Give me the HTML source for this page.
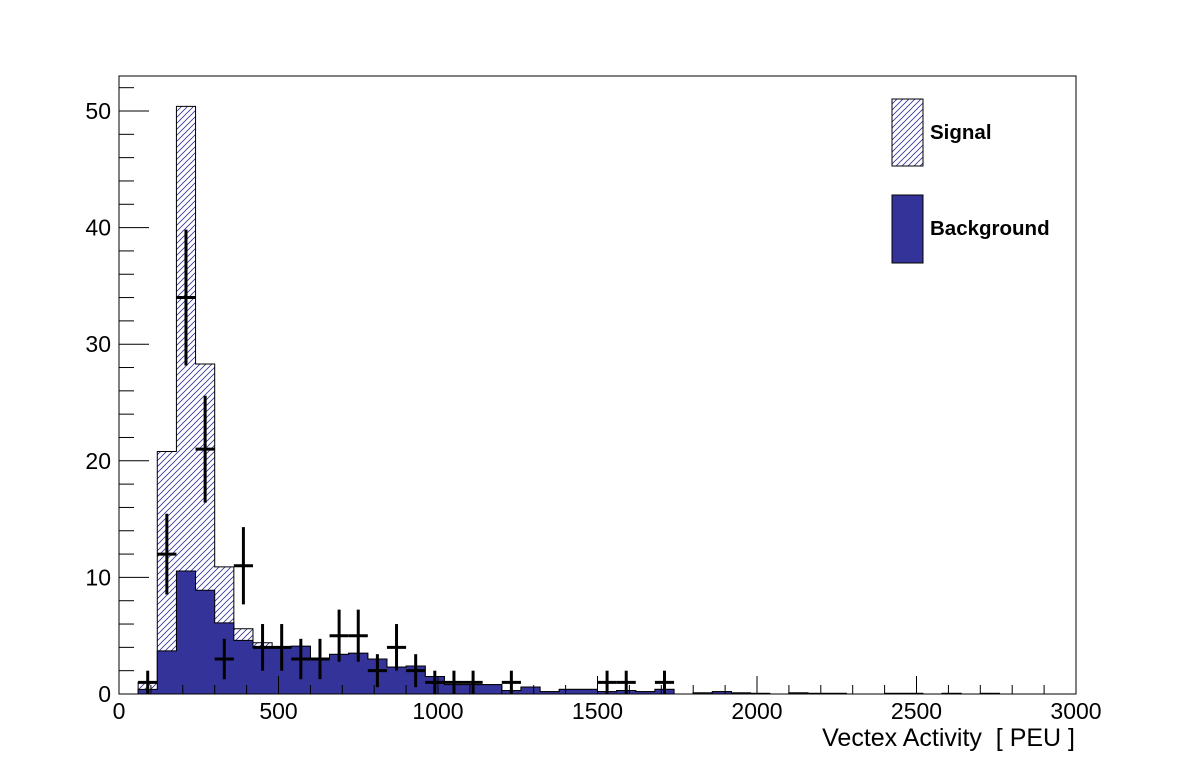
<!DOCTYPE html>
<html><head><meta charset="utf-8"><style>
html,body{margin:0;padding:0;background:#fff;}
svg{display:block;font-family:"Liberation Sans",Arial,sans-serif;}
</style></head><body>
<svg id="s" width="1196" height="772" xmlns="http://www.w3.org/2000/svg">
<defs>
<pattern id="h" patternUnits="userSpaceOnUse" width="6" height="6">
<rect width="6" height="6" fill="#fff"/>
<path d="M-1,7 L7,-1 M-1,1 L1,-1 M5,7 L7,5" stroke="#333399" stroke-width="0.8"/>
</pattern>
</defs>
<g id="g"></g>
</svg>
<script>
var X0=119,X1=1076,Y0=694,ppu=11.66;
function px(v){return X0+v*(X1-X0)/3000;}
function py(v){return Y0-v*ppu;}
var bg=[0.4,3.7,10.55,8.9,6.1,4.6,4.0,4.0,4.1,3.0,3.4,3.5,3.0,2.3,2.4,1.5,0.8,0.8,0.8,0.3,0.6,0.2,0.4,0.4,0.2,0.3,0.2,0.4,0,0.1,0.2,0.1,0.05,0,0.1,0.05,0.05,0,0,0.05,0.05,0,0.05,0,0.05,0];
var tot=bg.slice();tot[0]=1.0;tot[1]=20.8;tot[2]=50.4;tot[3]=28.3;tot[4]=10.9;tot[5]=5.6;tot[6]=4.4;
function stepPath(arr){var d="M"+px(60)+","+Y0;for(var i=0;i<arr.length;i++){var a=60+i*60;d+=" L"+px(a)+","+py(arr[i])+" L"+px(a+60)+","+py(arr[i]);}d+=" L"+px(60+arr.length*60)+","+Y0+" Z";return d;}
var s="";
s+='<path d="'+stepPath(tot)+'" fill="url(#h)" stroke="#000" stroke-width="1"/>';
s+='<path d="'+stepPath(bg)+'" fill="#333399" stroke="#000" stroke-width="1"/>';
s+='<rect x="'+X0+'" y="76" width="'+(X1-X0)+'" height="'+(Y0-76)+'" fill="none" stroke="#000" stroke-width="1"/>';
for(var v=0;v<=3000;v+=100){var x=px(v);var L=(v%500==0)?18:9;s+='<line x1="'+x+'" y1="'+Y0+'" x2="'+x+'" y2="'+(Y0-L)+'" stroke="#000"/>';}
for(var v=0;v<=3000;v+=500){s+='<text x="'+px(v)+'" y="719" font-size="23" text-anchor="middle">'+v+'</text>';}
for(var v=0;v<=52;v+=2){var y=py(v);var L=(v%10==0)?30:15;s+='<line x1="'+X0+'" y1="'+y+'" x2="'+(X0+L)+'" y2="'+y+'" stroke="#000"/>';}
for(var v=0;v<=50;v+=10){s+='<text x="111" y="'+(py(v)+8)+'" font-size="23" text-anchor="end">'+v+'</text>';}
s+='<text x="1075" y="746" font-size="25" text-anchor="end" xml:space="preserve">Vectex Activity  [ PEU ]</text>';
var dat=[[90,1],[150,12],[210,34],[270,21],[330,3],[390,11],[450,4],[510,4],[570,3],[630,3],[690,5],[750,5],[810,2],[870,4],[930,2],[990,1],[1050,1],[1110,1],[1230,1],[1530,1],[1590,1],[1710,1]];
dat.forEach(function(d){var x=px(d[0]),e=Math.sqrt(d[1]);var lo=Math.max(0,d[1]-e);
s+='<line x1="'+px(d[0]-30)+'" y1="'+py(d[1])+'" x2="'+px(d[0]+30)+'" y2="'+py(d[1])+'" stroke="#000" stroke-width="3"/>';
s+='<line x1="'+x+'" y1="'+py(d[1]+e)+'" x2="'+x+'" y2="'+py(lo)+'" stroke="#000" stroke-width="3"/>';});
s+='<rect x="892" y="99" width="31" height="67" fill="url(#h)" stroke="#000"/>';
s+='<rect x="892" y="195" width="31" height="68" fill="#333399" stroke="#000"/>';
s+='<text x="930" y="139" font-size="20.5" font-weight="bold">Signal</text>';
s+='<text x="930" y="235" font-size="20.5" font-weight="bold">Background</text>';
document.getElementById("g").innerHTML=s;
</script>
</body></html>
